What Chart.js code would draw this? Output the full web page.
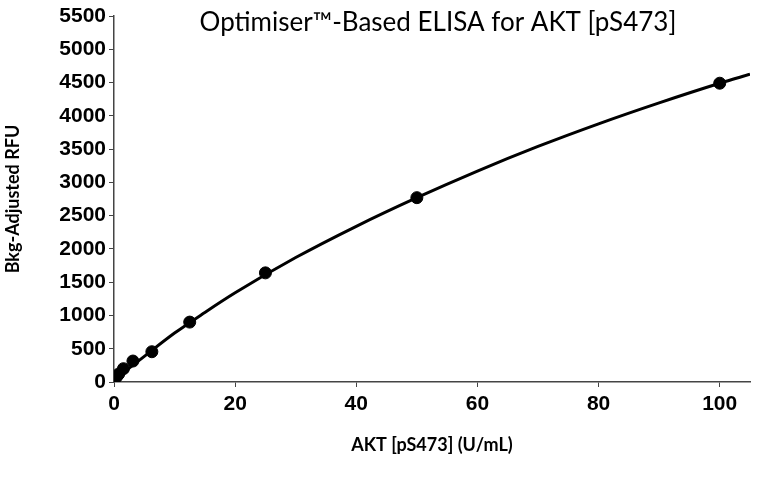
<!DOCTYPE html>
<html>
<head>
<meta charset="utf-8">
<script src="https://cdn.jsdelivr.net/npm/chart.js@4/dist/chart.umd.min.js"></script>
<style>
    html, body { margin: 0; padding: 0; background: #fff; }
    #wrap { width: 766px; height: 488px; }
</style>
</head>
<body>
<div id="wrap"><canvas id="elisa-chart"></canvas></div>
<script>
// Standard points (concentration U/mL vs background-adjusted RFU)
const concentrations = [0, 0.39, 0.78, 1.56, 3.125, 6.25, 12.5, 25, 50, 100];
const rfuValues = [40, 75, 120, 200, 315, 455, 900, 1640, 2770, 4490];

// Fitted curve
const curveX = [0, 5, 10, 15, 20, 30, 40, 50, 60, 70, 80, 90, 100, 105];
const curveY = [30, 385, 735, 1045, 1340, 1870, 2340, 2770, 3170, 3540, 3880, 4195, 4490, 4625];

const xTicks = [0, 20, 40, 60, 80, 100];
const chartTitle = 'Optimiser\u2122-Based ELISA for AKT [pS473]';

const axisColor = '#444';
const tickFont = { family: "'Liberation Sans Narrow', 'Arial Narrow', sans-serif", size: 21, weight: 'bold' };
const titleFamily = "Lato, 'Open Sans', sans-serif";

// Title drawn inside the plot area, like the original
const titlePlugin = {
    id: 'insideTitle',
    afterDraw(chart) {
        const ctx = chart.ctx;
        ctx.save();
        ctx.font = '26px ' + titleFamily;
        ctx.fillStyle = '#000';
        ctx.textAlign = 'center';
        ctx.textBaseline = 'middle';
        ctx.fillText(chartTitle, 438, 23);
        ctx.restore();
    }
};

const ctx = document.getElementById('elisa-chart').getContext('2d');
new Chart(ctx, {
    type: 'scatter',
    data: {
        datasets: [
            {
                label: 'Fit',
                data: curveX.map((x, i) => ({ x: x, y: curveY[i] })),
                showLine: true,
                borderColor: '#000',
                borderWidth: 3,
                pointRadius: 0,
                cubicInterpolationMode: 'monotone'
            },
            {
                label: 'Standards',
                data: concentrations.map((x, i) => ({ x: x, y: rfuValues[i] })),
                backgroundColor: '#000',
                borderColor: '#000',
                pointRadius: 6,
                pointHoverRadius: 6
            }
        ]
    },
    options: {
        responsive: true,
        maintainAspectRatio: false,
        animation: false,
        layout: { padding: { top: 16, right: 16, left: 0, bottom: 0 } },
        plugins: {
            legend: { display: false },
            tooltip: { enabled: false }
        },
        scales: {
            x: {
                type: 'linear',
                min: 0,
                max: 105,
                afterBuildTicks(scale) {
                    scale.ticks = xTicks.map(v => ({ value: v }));
                },
                afterFit(scale) { scale.height = 106; },
                ticks: {
                    color: '#000',
                    font: tickFont,
                    padding: 5,
                    callback: v => String(v)
                },
                grid: {
                    display: true,
                    drawOnChartArea: false,
                    color: axisColor,
                    tickLength: 5,
                    tickColor: axisColor
                },
                border: { color: axisColor, width: 1.5 },
                title: {
                    display: true,
                    text: 'AKT [pS473] (U/mL)',
                    color: '#000',
                    font: { family: titleFamily, size: 18, weight: 'bold' },
                    padding: { top: 0, bottom: 32 }
                }
            },
            y: {
                min: 0,
                max: 5500,
                ticks: {
                    stepSize: 500,
                    color: '#000',
                    font: tickFont,
                    padding: 3,
                    callback: v => String(v)
                },
                afterFit(scale) { scale.width = 114; },
                grid: {
                    display: true,
                    drawOnChartArea: false,
                    color: axisColor,
                    tickLength: 5,
                    tickColor: axisColor
                },
                border: { color: axisColor, width: 1.5 },
                title: {
                    display: true,
                    text: 'Bkg-Adjusted RFU',
                    color: '#000',
                    font: { family: titleFamily, size: 18, weight: 'bold' },
                    padding: { top: 2, bottom: 0 }
                }
            }
        }
    },
    plugins: [titlePlugin]
});
</script>
</body>
</html>
